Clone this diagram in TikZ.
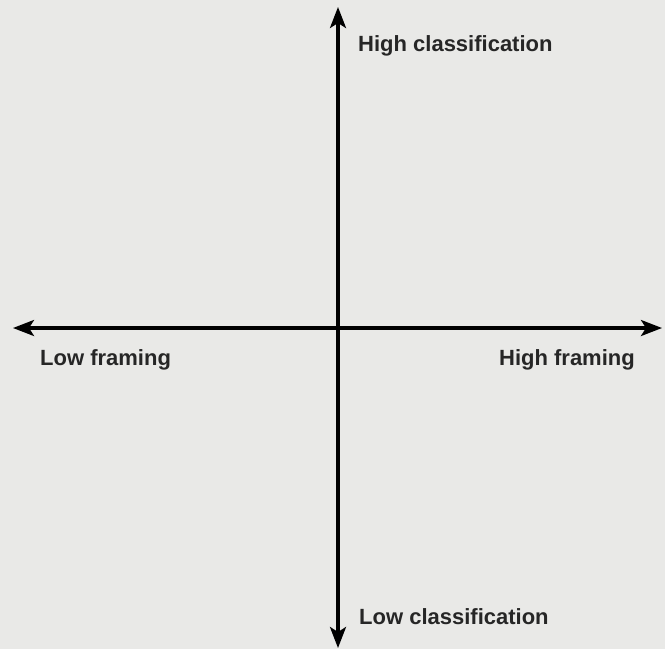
\documentclass[tikz,border=0pt]{standalone}
\usepackage{fontspec}
\setmainfont{Liberation Sans}
\usetikzlibrary{arrows.meta}
\definecolor{bg}{HTML}{E9E9E7}
\begin{document}
\begin{tikzpicture}[x=1pt,y=-1pt,
  axis/.style={line width=3.2pt,-{Stealth[length=21pt,width=16pt,inset=5pt]}},
  lbl/.style={anchor=base west,inner sep=0pt,font=\fontsize{22pt}{24pt}\selectfont\bfseries,text=black!85}]
\fill[bg] (0,0) rectangle (665,649);
\useasboundingbox (0,0) rectangle (665,649);
\coordinate (c) at (338,328);
\coordinate (top) at (338,7);
\coordinate (bot) at (338,648);
\coordinate (lft) at (13,328);
\coordinate (rgt) at (662,328);
\draw[axis] (c) -- (top);
\draw[axis] (c) -- (bot);
\draw[axis] (c) -- (lft);
\draw[axis] (c) -- (rgt);
\node[lbl] (hc) at (358,51) {High classification};
\node[lbl] (lf) at (40,365) {Low framing};
\node[lbl,anchor=base east] (hf) at (635,365) {High framing};
\node[lbl] (lc) at (359,624) {Low classification};
\end{tikzpicture}
\end{document}
